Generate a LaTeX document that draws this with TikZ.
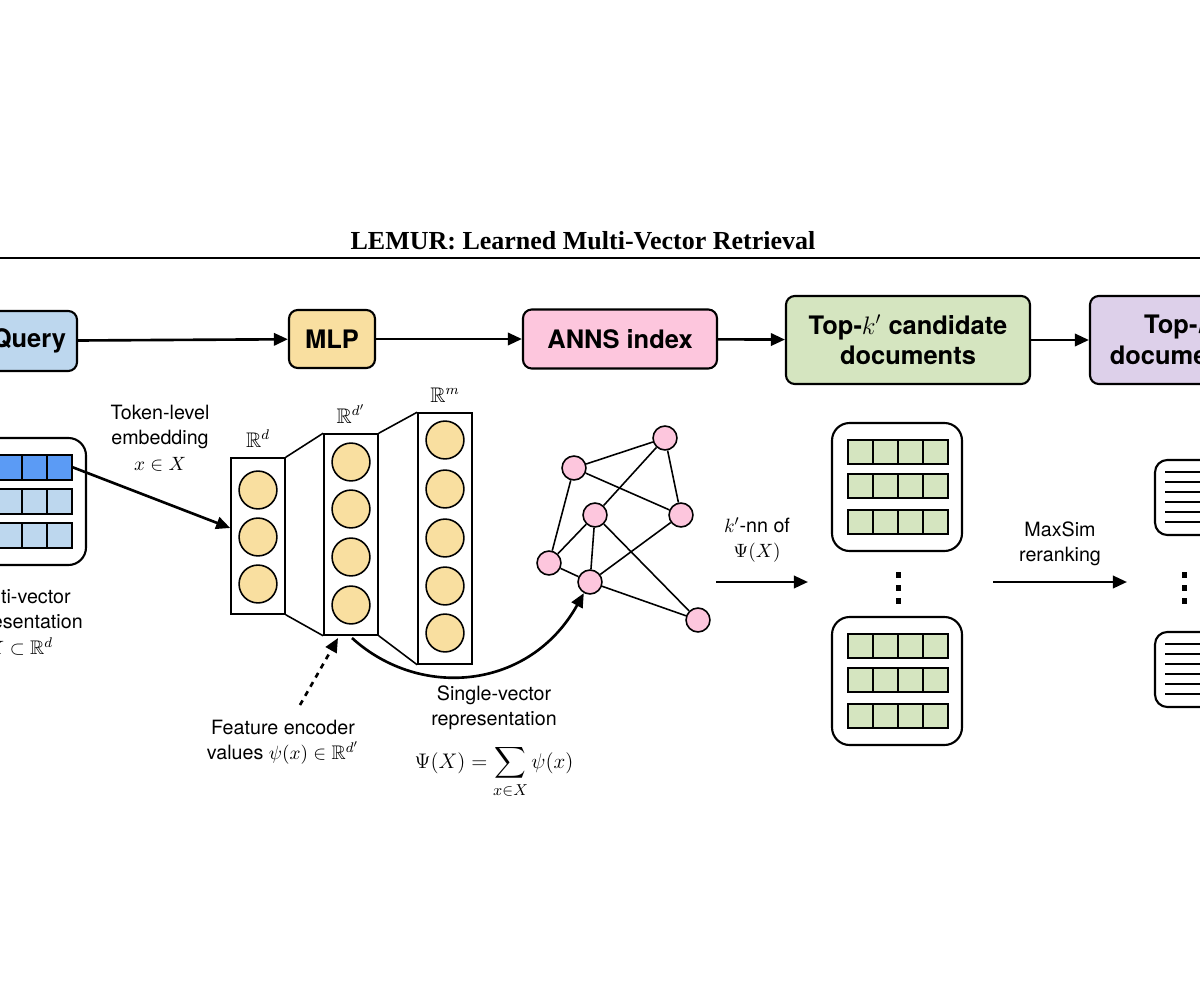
\documentclass[tikz,border=0pt]{standalone}
\usepackage{fontspec}
\usepackage{amssymb}
\setmainfont{Liberation Serif}
\setsansfont{TeX Gyre Heros}
\usetikzlibrary{arrows.meta,positioning}
\definecolor{qblue}{HTML}{BDD7EE}
\definecolor{tblue}{HTML}{5B9BF5}
\definecolor{mlpy}{HTML}{F9DFA0}
\definecolor{annsp}{HTML}{FDC6DD}
\definecolor{candg}{HTML}{D5E5C0}
\definecolor{topv}{HTML}{DDD0EA}
\tikzset{
  stage/.style={draw, rounded corners=5pt, line width=1.2pt, font=\sffamily\bfseries\fontsize{14.5}{17.5}\selectfont, align=center, inner sep=0pt},
  flow/.style={line width=1.5pt, -{Triangle[length=8pt,width=7pt]}},
  lbl/.style={font=\sffamily\fontsize{11.2}{14.5}\selectfont, align=center},
  unit/.style={draw, circle, fill=mlpy, minimum size=38pt*0.567, inner sep=0pt, line width=0.9pt},
  vtx/.style={draw, circle, fill=annsp, minimum size=24pt*0.567, inner sep=0pt, line width=0.9pt},
  cell/.style={draw, line width=0.9pt},
}
\begin{document}
\begin{tikzpicture}[x=0.02cm, y=-0.02cm, line width=0.9pt]
\useasboundingbox (0,0) rectangle (1200,1000);
\clip (0,0) rectangle (1200,1000);
% title
\node[font=\bfseries\fontsize{14.8}{17}\selectfont] (title) at (583,241) {LEMUR: Learned Multi-Vector Retrieval};
\draw[line width=1.2pt] (0,258) -- (1200,258);
% pipeline
\node[stage, fill=qblue, minimum width=170*0.02cm, minimum height=60*0.02cm] (query) at (-8,341) {\hspace*{42pt}Query};
\node[stage, fill=mlpy, minimum width=86*0.02cm, minimum height=58*0.02cm] (mlp) at (332,339) {MLP};
\node[stage, fill=annsp, minimum width=194*0.02cm, minimum height=59*0.02cm] (anns) at (620,339) {ANNS index};
\node[stage, fill=candg, minimum width=244*0.02cm, minimum height=88*0.02cm] (cand) at (908,340) {Top-$k'$ candidate\\documents};
\node[stage, fill=topv, minimum width=200*0.02cm, minimum height=88*0.02cm] (topk) at (1190,340) {\hspace*{-14pt}Top-$k$\\\hspace*{-14pt}documents};
\draw[flow] (query) -- (mlp);
\draw[flow] (mlp) -- (anns);
\draw[flow] (anns) -- (cand);
\draw[flow] (cand) -- (topk);
% multi-vector query
\draw[rounded corners=10pt, line width=1.2pt] (-40,438) rectangle (86,565);
\foreach \y/\c in {455/tblue,489/qblue,523/qblue}
  \foreach \x in {-28,-3,22,47}
    \draw[cell, fill=\c] (\x,\y) rectangle ++(25,25);
\coordinate (tok) at (72,467);
\node[lbl] (mvlbl) at (20,622) {Multi-vector\\representation\\$X\subset\mathbb{R}^d$};
\node[lbl] (toklbl) at (160,438) {Token-level\\embedding\\$x\in X$};
% feature encoder
\node[draw, minimum width=54*0.02cm, minimum height=156*0.02cm, inner sep=0pt] (l1) at (258,536) {};
\node[draw, minimum width=54*0.02cm, minimum height=201*0.02cm, inner sep=0pt] (l2) at (351,534.5) {};
\node[draw, minimum width=54*0.02cm, minimum height=251*0.02cm, inner sep=0pt] (l3) at (445,538.5) {};
\foreach \y in {490,537,584} \node[unit] at (258,\y) {};
\foreach \y in {462,509,557,605} \node[unit] at (351,\y) {};
\foreach \y in {440,489,538,586,633} \node[unit] at (445,\y) {};
\draw (l1.north east) -- (l2.north west) (l1.south east) -- (l2.south west);
\draw (l2.north east) -- (l3.north west) (l2.south east) -- (l3.south west);
\node[font=\fontsize{12}{14}\selectfont, above=2pt of l1] {$\mathbb{R}^d$};
\node[font=\fontsize{12}{14}\selectfont, above=2pt of l2] {$\mathbb{R}^{d'}$};
\node[font=\fontsize{12}{14}\selectfont, above=2pt of l3] {$\mathbb{R}^m$};
\draw[flow] (tok) -- (l1.west |- 0,528);
\node[lbl] (featlbl) at (283,742) {Feature encoder\\values $\psi(x)\in\mathbb{R}^{d'}$};
\draw[flow, dashed] (300,705) -- (338,638);
% graph
\node[vtx] (a) at (574,468) {};
\node[vtx] (b) at (665,438) {};
\node[vtx] (c) at (595,515) {};
\node[vtx] (d) at (681,515) {};
\node[vtx] (e) at (549,563) {};
\node[vtx] (f) at (590,582) {};
\node[vtx] (g) at (698,620) {};
\foreach \u/\v in {a/b,a/d,a/e,b/d,b/c,c/e,c/f,c/g,d/f,e/f,f/g}
  \draw (\u) -- (\v);
\draw[flow] (352,638) .. controls (420,700) and (530,690) .. (f);
\node[lbl] (svlbl) at (494,708) {Single-vector\\representation};
\node[font=\fontsize{12.5}{15}\selectfont] (psi) at (494,772) {$\displaystyle\Psi(X)=\sum_{x\in X}\psi(x)$};
% candidates
\node[lbl] (knn) at (757,540) {$k'$-nn of\\$\Psi(X)$};
\draw[flow] (716,582) -- (808,582);
\foreach \top in {423,617}{
  \draw[rounded corners=10pt, line width=1.2pt] (832,\top) rectangle (962,\top+128);
  \foreach \dy in {17,51,87}
    \foreach \x in {848,873,898,923}
      \draw[cell, fill=candg] (\x,\top+\dy) rectangle ++(25,24);
}
\foreach \y in {575,588,601} \fill (895.5,\y-3.5) rectangle ++(5,6);
\node[lbl] (maxsim) at (1060,544) {MaxSim\\reranking};
\draw[flow] (993,582) -- (1127,582);
% top-k documents
\foreach \top in {460,632}{
  \draw[rounded corners=7pt, line width=1.2pt] (1155,\top) rectangle (1230,\top+75);
  \foreach \dy in {12,22,32,42,52,62}
    \draw (1165,\top+\dy) -- (1200,\top+\dy);
}
\foreach \y in {575,588,601} \fill (1181.5,\y-3.5) rectangle ++(5,6);
\end{tikzpicture}
\end{document}
